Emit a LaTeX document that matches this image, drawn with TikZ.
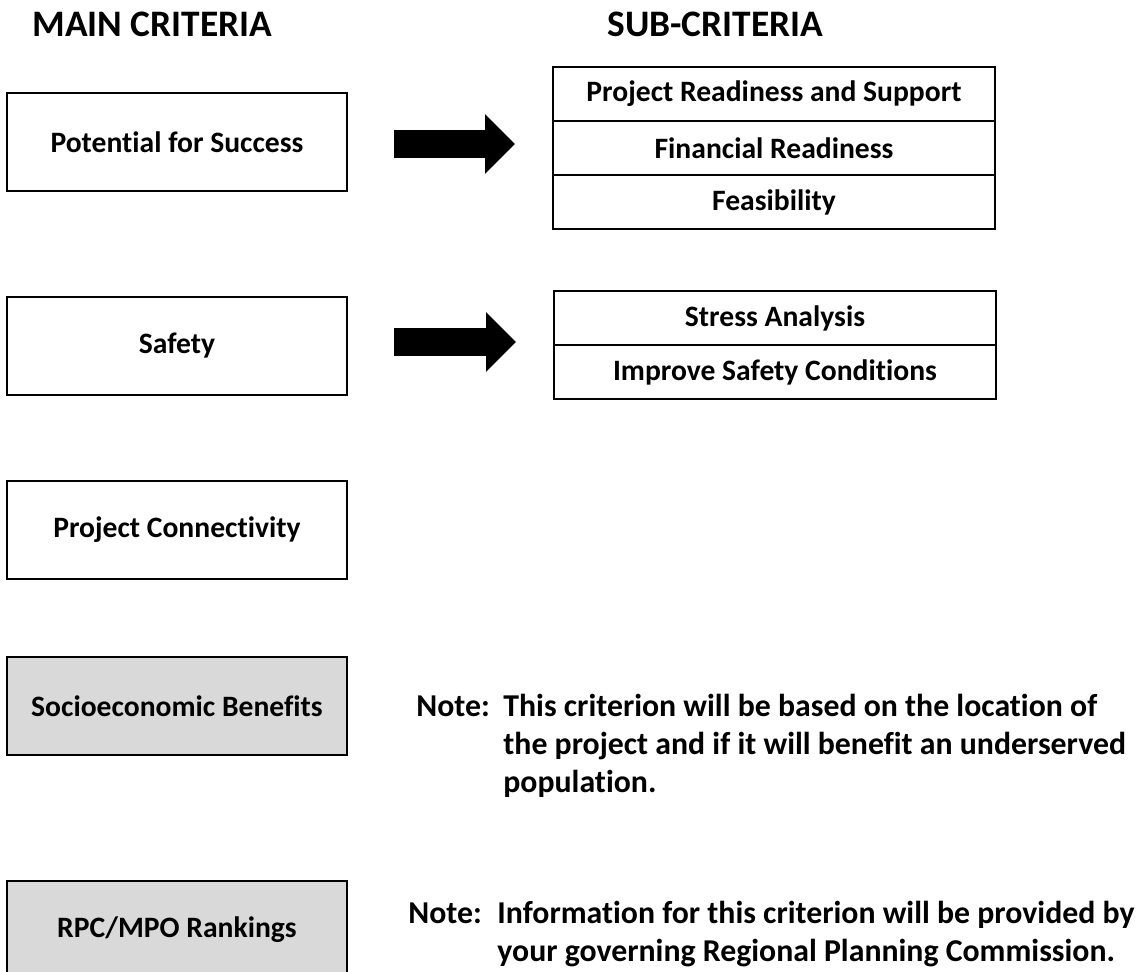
\documentclass[tikz,border=0pt]{standalone}
\usepackage{fontspec}
\setmainfont[Ligatures = NoCommon]{Carlito}
\usetikzlibrary{positioning,arrows.meta}
\definecolor{boxgray}{HTML}{D9D9D9}

\begin{document}
\begin{tikzpicture}
          [x = 0.5pt, y = -0.5pt,
           every node/.style = {font = \bfseries\fontsize{14.8}{17}\selectfont},
           mainbox/.style = {draw, line width = 0.75pt, minimum width = 170pt, minimum height = 49pt, inner sep = 0pt, outer sep = 0pt},
           subbox/.style = {draw, line width = 0.75pt, minimum width = 221pt, minimum height = 27pt, inner sep = 0pt, outer sep = 0pt},
           shaded/.style = {fill = boxgray},
           head/.style = {anchor = base west, inner sep = 0pt, font = \bfseries\fontsize{18.7}{22}\selectfont},
           note/.style = {anchor = base west, inner sep = 0pt, font = \bfseries\fontsize{15.9}{19}\selectfont},
           bigarrow/.style = {line width = 14pt, shorten <= 23.5pt, shorten >= 19pt,
                              -{Triangle[length = 0pt 1.07, width = 0pt 2.07]}}]
          \path[use as bounding box, clip] (0,0) rectangle (1146,972);
          \node[head] (mainhead) at (32,37) {MAIN CRITERIA};
          \node[head] (subhead) at (607,37) {SUB-CRITERIA};
          \node[mainbox] (pot) at (177,142) {Potential for Success};
          \node[mainbox] (saf) at (177,346) {Safety};
          \node[mainbox] (con) at (177,530) {Project Connectivity};
          \node[mainbox, shaded] (soc) at (177,706) {Socioeconomic Benefits};
          \node[mainbox, shaded] (rpc) at (177,930) {RPC/MPO Rankings};
          \node[subbox] (prs) at (774,94) {Project Readiness and Support};
          \node[subbox, below = 0pt of prs] (fin) {Financial Readiness};
          \node[subbox, below = 0pt of fin] (fea) {Feasibility};
          \node[subbox] (str) at (775,318) {Stress Analysis};
          \node[subbox, below = 0pt of str] (isc) {Improve Safety Conditions};
          \draw[bigarrow] ([yshift = -1pt]pot.east) -- ([yshift = -1pt]pot.east -| fin.west);
          \draw[bigarrow] ([yshift = 2pt]saf.east) -- ([yshift = 2pt]saf.east -| str.west);
          \node[note] (socnote) at (416,717) {\begin{tabular}[t]{@{}l@{}l@{}}
            \makebox[43.5pt][l]{Note:} & This criterion will be based on the location of\\
            & the project and if it will benefit an underserved\\
            & population.\end{tabular}};
          \node[note] (rpcnote) at (408,923) {\begin{tabular}[t]{@{}l@{}l@{}}
            \makebox[44.5pt][l]{Note:} & Information for this criterion will be provided by\\
            & your governing Regional Planning Commission.\end{tabular}};
        \end{tikzpicture}
\end{document}
